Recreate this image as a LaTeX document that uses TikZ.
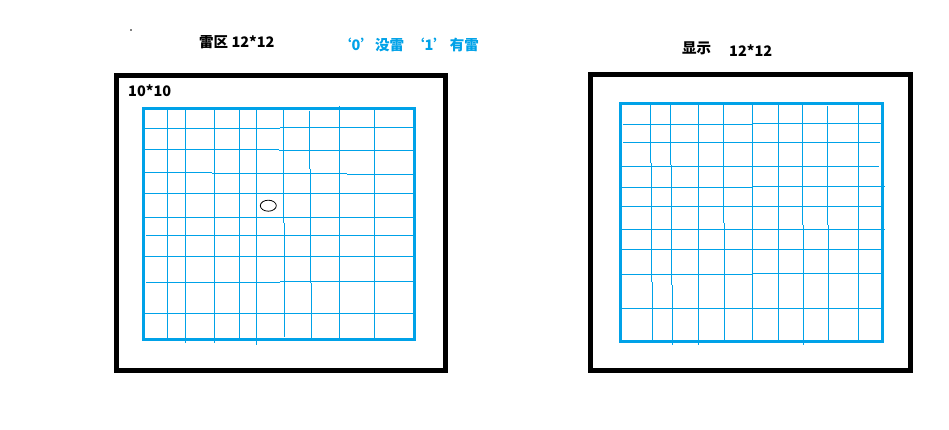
\documentclass[tikz,border=0pt]{standalone}
\usepackage{fontspec}
\newfontfamily\cjk{Noto Sans CJK SC}
\definecolor{pblue}{RGB}{0,162,232}
\begin{document}
\begin{tikzpicture}[x=1pt,y=-1pt,
  outer/.style={draw=black,line width=5pt},
  border/.style={draw=pblue,line width=3pt},
  gl/.style={draw=pblue,line width=1.45pt},
  lbl/.style={font=\cjk\bfseries\fontsize{14.5}{16}\selectfont,inner sep=0pt,anchor=base west}]
\useasboundingbox[fill=white] (0,0) rectangle (949,430);
% ---------- left panel ----------
\draw[outer] (116.5,75.5) rectangle (445.5,370.5);
% horizontal grid lines
\draw[gl] (145,128.5) -- (280,128.5) (280,127.5) -- (413,127.5);
\draw[gl] (145,149.5) -- (279,149.5) (279,150.5) -- (413,150.5);
\draw[gl] (145,172.5) -- (212,172.5) (212,173.5) -- (347,173.5) (347,174.5) -- (413,174.5);
\draw[gl] (145,193.5) -- (413,193.5);
\draw[gl] (145,217.5) -- (413,217.5);
\draw[gl] (146,235.5) -- (413,235.5);
\draw[gl] (145,256.5) -- (413,256.5);
\draw[gl] (146,282.5) -- (280,282.5) (280,281.5) -- (413,281.5);
\draw[gl] (145,313.5) -- (413,313.5);
% vertical grid lines
\draw[gl] (167.5,108) -- (167.5,339);
\draw[gl] (185.5,108) -- (185.5,343);
\draw[gl] (214.5,108) -- (214.5,343);
\draw[gl] (239.5,108) -- (239.5,339);
\draw[gl] (256.5,108) -- (256.5,345);
\draw[gl] (283.5,108) -- (283.5,223) (284.5,223) -- (284.5,337);
\draw[gl] (309.5,111) -- (309.5,169) (310.5,169) -- (310.5,283) (311.5,283) -- (311.5,339);
\draw[gl] (339.5,106) -- (339.5,339);
\draw[gl] (374.5,108) -- (374.5,339);
\draw[border] (143.5,108.5) rectangle (414.5,339.5);
\draw[black,line width=0.8pt] (268.3,205.7) ellipse [x radius=8, y radius=5.5];
% ---------- right panel ----------
\draw[outer] (590.5,74.5) rectangle (910.5,370.5);
\draw[gl] (623,124.5) -- (752,124.5) (752,123.5) -- (881,123.5);
\draw[gl] (623,142.5) -- (880,142.5);
\draw[gl] (621,166.5) -- (879,166.5);
\draw[gl] (621,187.5) -- (752,187.5) (752,186.5) -- (885,186.5);
\draw[gl] (621,206.5) -- (882,206.5);
\draw[gl] (621,229.5) -- (885,229.5);
\draw[gl] (621,249.5) -- (882,249.5);
\draw[gl] (621,274.5) -- (752,274.5) (752,273.5) -- (882,273.5);
\draw[gl] (621,308.5) -- (882,308.5);
\draw[gl] (650.5,104) -- (650.5,163) (651.5,163) -- (651.5,282) (652.5,282) -- (652.5,341);
\draw[gl] (670.5,104) -- (670.5,165) (671.5,165) -- (671.5,285) (672.5,285) -- (672.5,345);
\draw[gl] (698.5,104) -- (698.5,345);
\draw[gl] (723.5,104) -- (723.5,223) (724.5,223) -- (724.5,341);
\draw[gl] (752.5,104) -- (752.5,341);
\draw[gl] (778.5,104) -- (778.5,341);
\draw[gl] (802.5,104) -- (802.5,225) (803.5,225) -- (803.5,345);
\draw[gl] (827.5,106) -- (827.5,225) (828.5,225) -- (828.5,341);
\draw[gl] (858.5,104) -- (858.5,341);
\draw[border] (620.5,103.5) rectangle (882.5,341.5);
% ---------- texts ----------
\fill[black] (131,30) circle [radius=0.8pt];
\node[lbl] (t1) at (199,47.5) {雷区 12*12};
\node[lbl,text=pblue] (t2) at (337,50.5) {‘0’没雷\hspace{6pt}‘1’\hspace{2pt}有雷};
\node[lbl] (t3) at (128,96.5) {10*10};
\node[lbl] (t4) at (682,53.5) {显示};
\node[lbl] (t5) at (729,56.5) {12*12};
\end{tikzpicture}
\end{document}
